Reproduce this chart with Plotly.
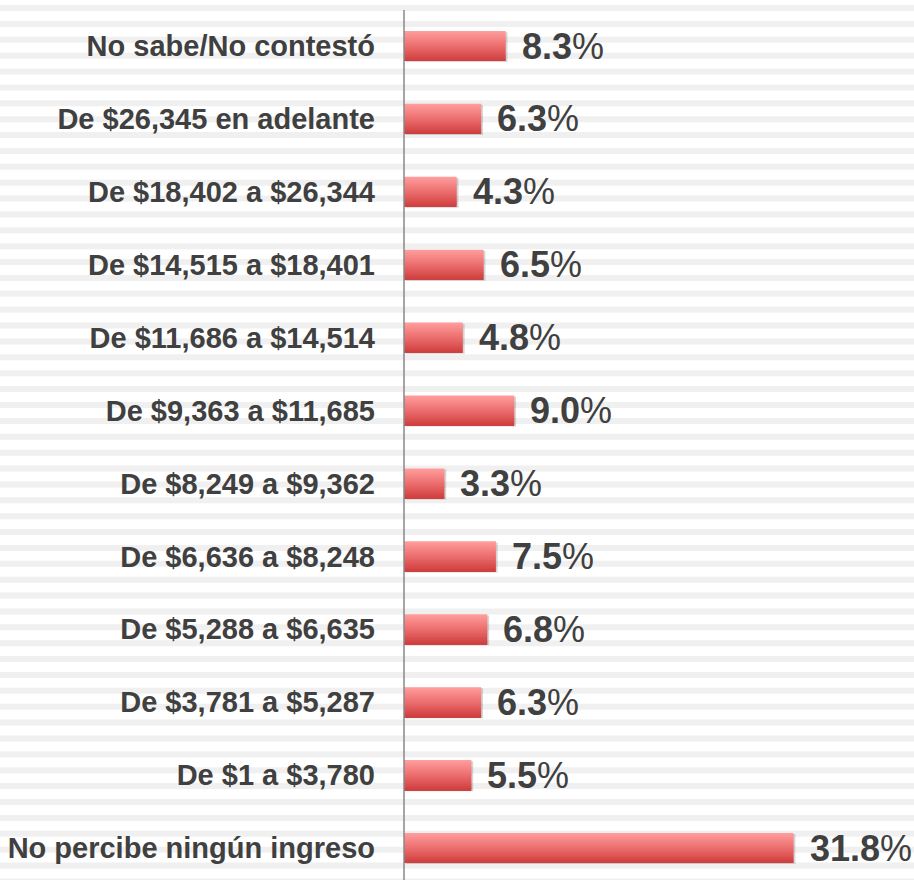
import plotly.graph_objects as go

categories = [
    "No percibe ningún ingreso",
    "De $1 a $3,780",
    "De $3,781 a $5,287",
    "De $5,288 a $6,635",
    "De $6,636 a $8,248",
    "De $8,249 a $9,362",
    "De $9,363 a $11,685",
    "De $11,686 a $14,514",
    "De $14,515 a $18,401",
    "De $18,402 a $26,344",
    "De $26,345 en adelante",
    "No sabe/No contestó",
]
values = [31.8, 5.5, 6.3, 6.8, 7.5, 3.3, 9.0, 4.8, 6.5, 4.3, 6.3, 8.3]

W, H = 914, 880
ML, MT = 404, 10
PH = H - MT

fig = go.Figure()

# shadow
fig.add_trace(go.Bar(
    y=list(range(len(categories))), x=values, orientation="h",
    width=0.41, offset=-0.22, marker=dict(color="rgba(0,0,0,0.16)", line=dict(width=0)),
    base=[0.15] * len(values), hoverinfo="skip", showlegend=False,
))

# gradient bars via stacked slices
top = (255, 155, 155)
mid = (236, 110, 110)
bot = (208, 64, 64)
n = 16
bw = 0.41
for i in range(n):
    t = i / (n - 1)
    if t < 0.5:
        u = t / 0.5
        c = tuple(round(top[k] + (mid[k] - top[k]) * u) for k in range(3))
    else:
        u = (t - 0.5) / 0.5
        c = tuple(round(mid[k] + (bot[k] - mid[k]) * u) for k in range(3))
    fig.add_trace(go.Bar(
        y=list(range(len(categories))), x=values, orientation="h",
        width=bw / n * 1.05, offset=bw / 2 - (i + 1) * bw / n,
        marker=dict(color="rgb(%d,%d,%d)" % c, line=dict(width=0)),
        hoverinfo="skip", showlegend=False,
    ))

for i, v in enumerate(values):
    fig.add_annotation(
        x=v, y=i, xref="x", yref="y", text="<b>%.1f</b>%%" % v,
        showarrow=False, xanchor="left", xshift=14,
        font=dict(family="Liberation Sans", size=36, color="#404040"),
    )

shapes = []
y = 5.0
while y < H:
    shapes.append(dict(
        type="rect", xref="paper", yref="paper", layer="below",
        x0=-ML / (W - ML), x1=1.0,
        y0=(H - y - 6) / PH, y1=(H - y) / PH,
        fillcolor="#f0f0f0", line=dict(width=0),
    ))
    y += 15.88
shapes.append(dict(type="line", xref="paper", yref="paper", x0=0, x1=0, y0=0, y1=1,
                   line=dict(color="#888888", width=1.5)))

px_per_unit = 72.9
ymin = 0 - (H - 848) / px_per_unit
ymax = 11 + (46 - MT) / px_per_unit

fig.update_layout(
    width=W, height=H,
    margin=dict(l=ML, r=0, t=MT, b=0),
    paper_bgcolor="white", plot_bgcolor="rgba(0,0,0,0)",
    barmode="overlay", showlegend=False,
    shapes=shapes,
    xaxis=dict(range=[0, 510 / 12.25], visible=False, fixedrange=True),
    yaxis=dict(
        range=[ymin, ymax], tickmode="array", fixedrange=True,
        tickvals=list(range(len(categories))), ticktext=["<b>%s</b>" % c for c in categories],
        showgrid=False, zeroline=False, showline=False, ticks="",
        ticklabelstandoff=28,
        tickfont=dict(family="Liberation Sans", size=29, color="#404040"),
    ),
)

fig.write_html("out.html", config={"displayModeBar": False},
               post_script="document.body.style.margin='0';")
